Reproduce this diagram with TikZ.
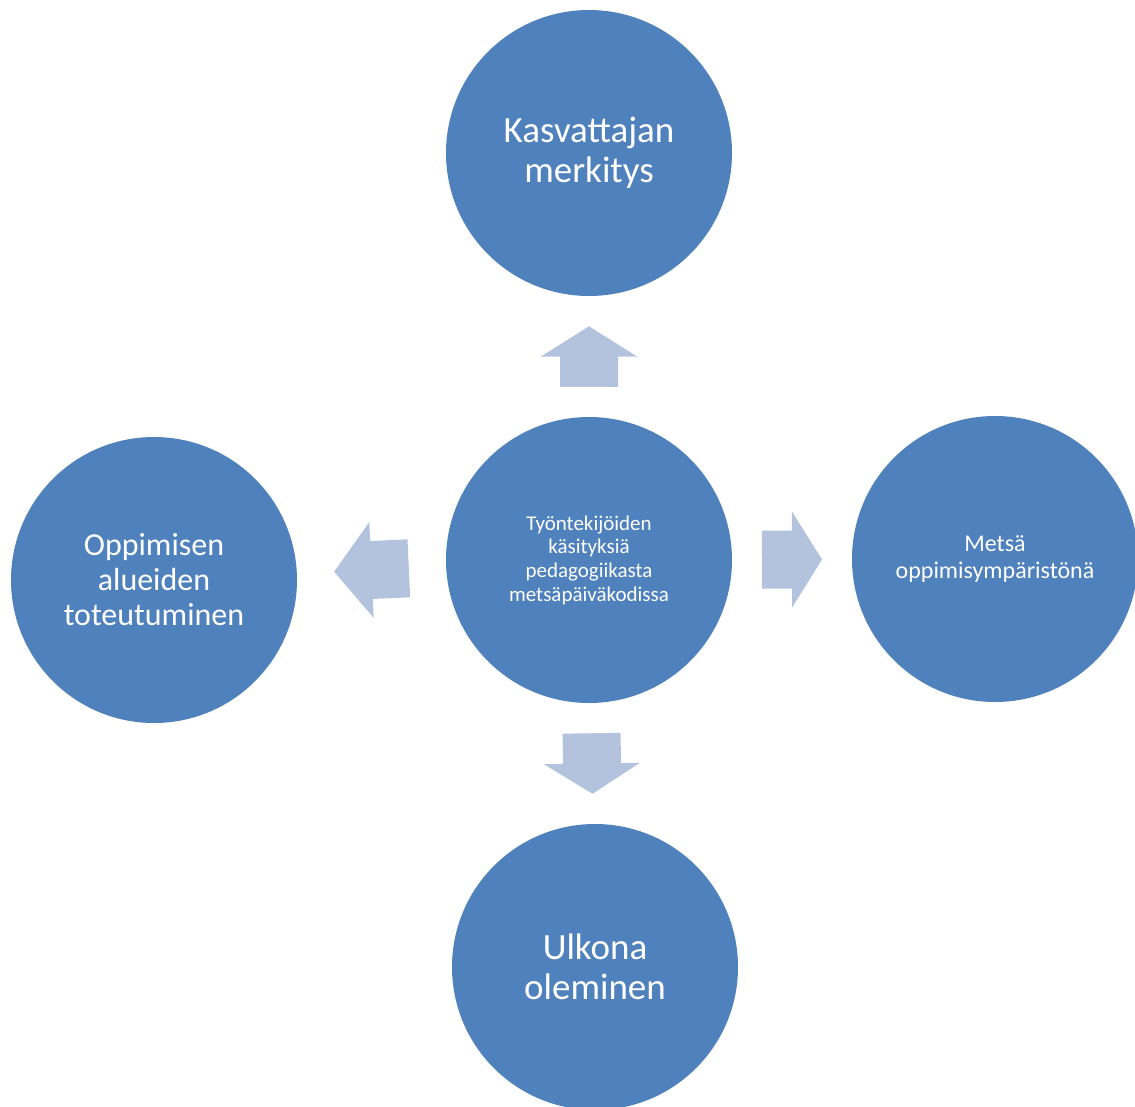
\documentclass[tikz,border=0pt]{standalone}
\usepackage{fontspec}
\setmainfont{Carlito}
\usetikzlibrary{calc}
\definecolor{circfill}{HTML}{4F81BD}
\definecolor{arrowfill}{HTML}{B3C3DE}
\tikzset{topic/.style={circle, fill=circfill, text=white, minimum size=286pt, inner sep=0pt, align=center}}
\tikzset{blockarrow/.style={fill=arrowfill, draw=none}}
% block arrow in the gap between two circles, pointing from #1 to #2
\newcommand{\blockarrow}[2]{%
  \coordinate (ea) at ($(#1)!143pt!(#2)$);
  \coordinate (eb) at ($(#2)!143pt!(#1)$);
  \coordinate (tail) at ($(ea)!.25!(eb)$);
  \coordinate (mid) at ($(ea)!.5!(eb)$);
  \coordinate (tip) at ($(ea)!.75!(eb)$);
  \fill[blockarrow] ($(tail)!29pt!90:(#2)$) -- ($(mid)!29pt!90:(#2)$)
    -- ($(mid)!48pt!90:(#2)$) -- (tip)
    -- ($(mid)!48pt!-90:(#2)$) -- ($(mid)!29pt!-90:(#2)$)
    -- ($(tail)!29pt!-90:(#2)$) -- cycle;
}

\begin{document}
\begin{tikzpicture}[x=1pt,y=-1pt]
  \useasboundingbox (0,0) rectangle (1135,1106);
  \node[topic, font=\fontsize{21}{23.7}\selectfont] (keski) at (589,560)
    {Työntekijöiden\\käsityksiä\\pedagogiikasta\\metsäpäiväkodissa};
  \node[topic, font=\fontsize{37}{40}\selectfont] (kasvattaja) at (589,153)
    {Kasvattajan\\merkitys};
  \node[topic, font=\fontsize{32}{35}\selectfont] (oppiminen) at (154,580)
    {Oppimisen\\alueiden\\toteutuminen};
  \node[topic, font=\fontsize{24}{27}\selectfont] (metsa) at (995,559)
    {Metsä\\oppimisympäristönä};
  \node[topic, font=\fontsize{37}{40}\selectfont] (ulkona) at (595,967)
    {Ulkona\\oleminen};
  \foreach \v in {kasvattaja, oppiminen, metsa, ulkona} {
    \blockarrow{keski}{\v}
  }
\end{tikzpicture}
\end{document}
